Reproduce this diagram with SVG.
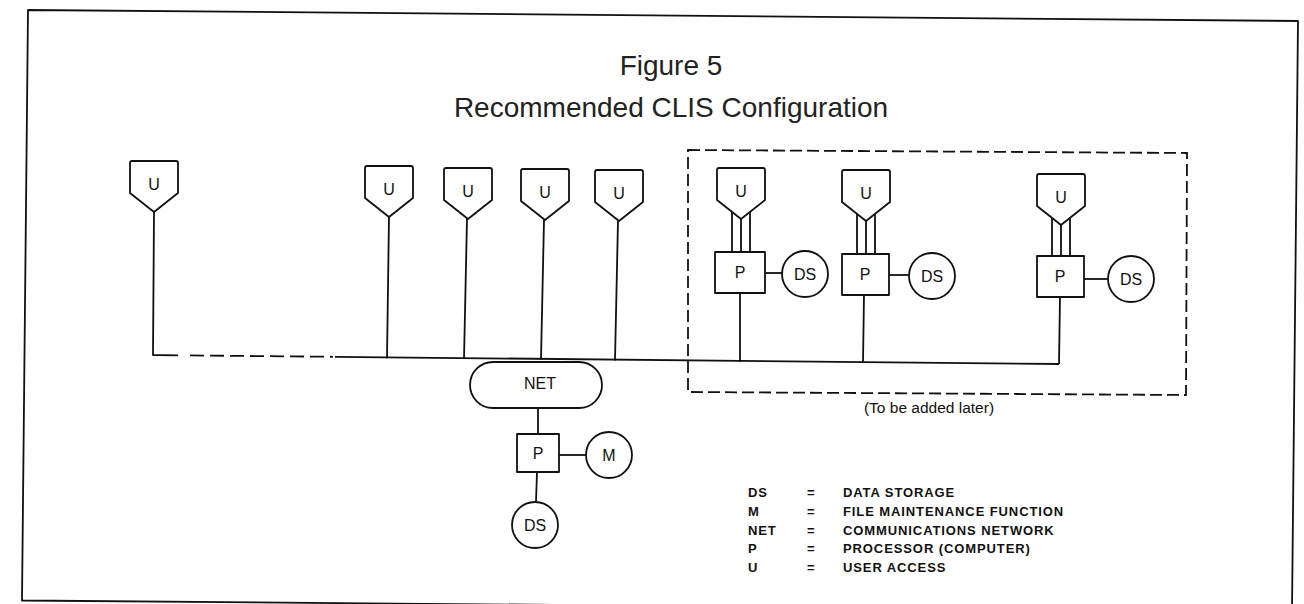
<svg xmlns="http://www.w3.org/2000/svg" width="1304" height="604" viewBox="0 0 1304 604">
<style>
.s{fill:none;stroke:#111;stroke-width:1.8;stroke-linejoin:round}
.n{fill:#fff;stroke:#111;stroke-width:1.8;stroke-linejoin:round}
.d{fill:none;stroke:#111;stroke-width:1.8;stroke-dasharray:14 6}
.db{fill:none;stroke:#111;stroke-width:1.8;stroke-dasharray:12 5}
.t{font-family:"Liberation Sans",Arial,sans-serif;fill:#111;text-anchor:middle}
.lbl{font-size:16px}
.ttl{font-size:28px;fill:#222}
.lg{font-family:"Liberation Sans",Arial,sans-serif;font-weight:bold;font-size:13px;letter-spacing:0.9px;fill:#111}
</style>
<defs>
<path id="ushape" d="M-24 2 Q-24 0 -22 0 L22 0 Q24 0 24 2 L24 32 L0 51 L-24 32 Z"/>
</defs>
<rect width="1304" height="604" fill="#fff"/>
<g id="frame">
<path class="s" d="M28 10 L1298 21 L1292 611 L22 600.5 Z"/>
</g>
<g id="title">
<text class="t ttl" x="671" y="75">Figure 5</text>
<text class="t ttl" x="671" y="117">Recommended CLIS Configuration</text>
</g>
<g id="connectors">
<path class="s" d="M154 212 L153 355 L178 355.3"/>
<path class="d" d="M190 355.4 L333 356.8"/>
<path class="s" d="M335 356.8 L1059 364"/>
<path class="s" d="M389 217 L387 358.2"/>
<path class="s" d="M467 219 L464 359"/>
<path class="s" d="M544 220 L541 359.8"/>
<path class="s" d="M618 221 L615 360.5"/>
<path class="s" d="M740 292 L740 361.7"/>
<path class="s" d="M864 294 L863 362.9"/>
<path class="s" d="M1060 297 L1059 364"/>
<path class="s" d="M732 212 L732 252 M741 219 L741 252 M750 212 L750 252"/>
<path class="s" d="M857 214 L857 254 M866 221 L866 254 M875 214 L875 254"/>
<path class="s" d="M1052 218 L1052 256 M1061 225 L1061 256 M1070 218 L1070 256"/>
<path class="s" d="M765 273 L782 273"/>
<path class="s" d="M889 275 L909 275"/>
<path class="s" d="M1083 279 L1108 279"/>
<path class="s" d="M538 408 L538 434"/>
<path class="s" d="M559 455 L586 455"/>
<path class="s" d="M537 472 L536 502"/>
</g>
<g id="future-box">
<path class="db" d="M688 150 L1187 153 L1186 395 L688 392 Z"/>
<text class="t" x="929" y="413" font-size="15.5">(To be added later)</text>
</g>
<g id="U1"><use href="#ushape" class="n" x="154" y="161"/><text class="t lbl" x="154" y="190">U</text></g>
<g id="U2"><use href="#ushape" class="n" x="389" y="166"/><text class="t lbl" x="389" y="195">U</text></g>
<g id="U3"><use href="#ushape" class="n" x="468" y="168"/><text class="t lbl" x="468" y="197">U</text></g>
<g id="U4"><use href="#ushape" class="n" x="545" y="169"/><text class="t lbl" x="545" y="198">U</text></g>
<g id="U5"><use href="#ushape" class="n" x="619" y="170"/><text class="t lbl" x="619" y="199">U</text></g>
<g id="U6"><use href="#ushape" class="n" x="741" y="168"/><text class="t lbl" x="741" y="197">U</text></g>
<g id="U7"><use href="#ushape" class="n" x="866" y="170"/><text class="t lbl" x="866" y="199">U</text></g>
<g id="U8"><use href="#ushape" class="n" x="1061" y="174"/><text class="t lbl" x="1061" y="203">U</text></g>
<g id="P6"><rect class="n" x="715" y="252" width="50" height="41"/><text class="t lbl" x="740" y="278">P</text></g>
<g id="DS6"><circle class="n" cx="805" cy="274" r="23"/><text class="t lbl" x="805" y="280">DS</text></g>
<g id="P7"><rect class="n" x="842" y="254" width="47" height="41"/><text class="t lbl" x="865" y="280">P</text></g>
<g id="DS7"><circle class="n" cx="932" cy="276" r="23"/><text class="t lbl" x="932" y="282">DS</text></g>
<g id="P8"><rect class="n" x="1037" y="256" width="47" height="41"/><text class="t lbl" x="1060" y="282">P</text></g>
<g id="DS8"><circle class="n" cx="1131" cy="279" r="23"/><text class="t lbl" x="1131" y="285">DS</text></g>
<g id="NET"><rect class="n" x="470" y="362" width="132" height="46" rx="23"/><text class="t lbl" x="540" y="389">NET</text></g>
<g id="P-main"><rect class="n" x="517" y="434" width="42" height="38"/><text class="t lbl" x="538" y="459">P</text></g>
<g id="M"><circle class="n" cx="609" cy="455" r="23"/><text class="t lbl" x="609" y="461">M</text></g>
<g id="DS-main"><circle class="n" cx="535" cy="525" r="23"/><text class="t lbl" x="535" y="531">DS</text></g>
<g id="legend">
<text class="lg" x="748" y="497">DS</text><text class="lg" x="807" y="497">=</text><text class="lg" x="843" y="497">DATA STORAGE</text>
<text class="lg" x="748" y="516">M</text><text class="lg" x="807" y="516">=</text><text class="lg" x="843" y="516">FILE MAINTENANCE FUNCTION</text>
<text class="lg" x="748" y="535">NET</text><text class="lg" x="807" y="535">=</text><text class="lg" x="843" y="535">COMMUNICATIONS NETWORK</text>
<text class="lg" x="748" y="553">P</text><text class="lg" x="807" y="553">=</text><text class="lg" x="843" y="553">PROCESSOR (COMPUTER)</text>
<text class="lg" x="748" y="572">U</text><text class="lg" x="807" y="572">=</text><text class="lg" x="843" y="572">USER ACCESS</text>
</g>
</svg>
